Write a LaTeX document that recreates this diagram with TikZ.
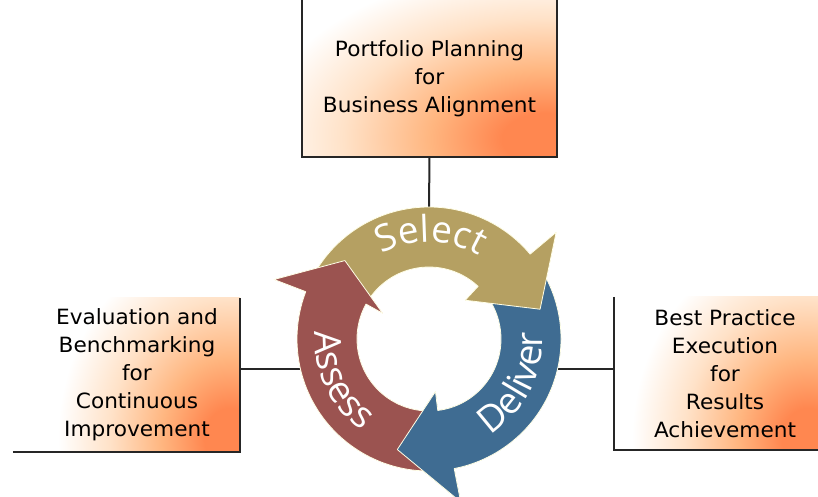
\documentclass[tikz,border=0pt]{standalone}
\usepackage{fontspec}
\newfontfamily\boxfont[FakeStretch=1.03]{DejaVu Sans}
\newfontfamily\ringfont[LetterSpace=3]{Open Sans}
\usetikzlibrary{decorations.text}
\definecolor{selectc}{RGB}{181,160,98}
\definecolor{deliverc}{RGB}{63,108,146}
\definecolor{assessc}{RGB}{155,83,80}
\definecolor{glowA}{RGB}{255,135,80}
\definecolor{glowB}{RGB}{255,182,128}
\definecolor{glowC}{RGB}{255,226,200}
\pgfdeclareradialshading{boxglow}{\pgfpoint{0bp}{0bp}}{color(0bp)=(glowA); color(3bp)=(glowA); color(8bp)=(glowB); color(14bp)=(glowC); color(20bp)=(white); color(50bp)=(white)}
\newcommand\ringarrow[4]{(#1:\Ro) arc[start angle=#1, end angle=#2, radius=\Ro] -- (#2:\Bo) -- (#4:\Tr) -- (#3:\Bi) -- (#3:\Ri) arc[start angle=#3, end angle=#1, radius=\Ri] -- cycle}
\tikzset{
	glowbox/.style 2 args={inner sep=0pt, align=center, font=\boxfont\fontsize{21}{28}\selectfont,
		path picture={\shade[shading=boxglow] ([shift={#1}]path picture bounding box.south east) ellipse [#2];}},
	boxline/.style={line width=2pt, black!85},
	arrowfill/.style={fill=#1, draw=white!90!yellow, line width=0.8pt, line join=round},
	ringtext/.style={decorate, decoration={text along path, text align=center, text={|\ringfont\fontsize{37}{37}\selectfont\color{white}|#1}}}
}
\begin{document}
\begin{tikzpicture}[x=1pt,y=1pt]
		\useasboundingbox (0,0) rectangle (818,497);
		\node[glowbox={(-12,18)}{x radius=360, y radius=215}, minimum width=255, minimum height=157]
			(planbox) at (429.5,418.5) {Portfolio Planning\\for\\Business Alignment};
		\node[glowbox={(-10,14)}{x radius=215, y radius=250}, minimum width=206, minimum height=154]
			(evalbox) at (137,122) {Evaluation and\\Benchmarking\\for\\Continuous\\Improvement};
		\node[glowbox={(-28,12)}{x radius=220, y radius=250}, minimum width=222, minimum height=153]
			(execbox) at (725,123.5) {Best Practice\\Execution\\for\\Results\\Achievement};
		\draw[boxline] (planbox.north west)--(planbox.south west)--(planbox.south east)--(planbox.north east);
		\draw[boxline] ([xshift=-21pt]evalbox.south west)--(evalbox.south east)--(evalbox.north east);
		\draw[boxline] (execbox.north west)--(execbox.south west)--(execbox.south east);
		\pgfmathsetmacro{\Ro}{132}
		\pgfmathsetmacro{\Ri}{72}
		\pgfmathsetmacro{\Bo}{166}
		\pgfmathsetmacro{\Bi}{53}
		\pgfmathsetmacro{\Tr}{115}
		\begin{scope}[shift={(429,158)}]
			\coordinate (cycle) at (0,0);
			\path (cycle) ++(90:\Ro) coordinate (ringtop);
			\path (cycle) ++(193:\Ro) coordinate (ringwest);
			\path (cycle) ++(-13:\Ro) coordinate (ringeast);
			\draw[boxline] (planbox.south)--(ringtop);
			\draw[boxline] (ringwest)--(ringwest-|evalbox.east);
			\draw[boxline] (ringeast)--(ringeast-|execbox.west);
			\foreach \col/\a/\bo/\bi/\c in {deliverc/38/-79/-83/-106, selectc/148/40/47/15, assessc/-84/-201/-209/-223}
				\fill[arrowfill=\col] \ringarrow{\a}{\bo}{\bi}{\c};
			\begin{scope}
				\clip (cycle)--(-70:200) arc[start angle=-70, end angle=-130, radius=200]--cycle;
				\fill[arrowfill=deliverc] \ringarrow{38}{-79}{-83}{-106};
			\end{scope}
			\path[ringtext=Select] (149:97) arc[start angle=149, end angle=29, radius=97];
			\path[ringtext=Deliver] (-87:114) arc[start angle=-87, end angle=33, radius=114];
			\path[ringtext=Assess] (145:114) arc[start angle=145, end angle=265, radius=114];
		\end{scope}
	\end{tikzpicture}
\end{document}
